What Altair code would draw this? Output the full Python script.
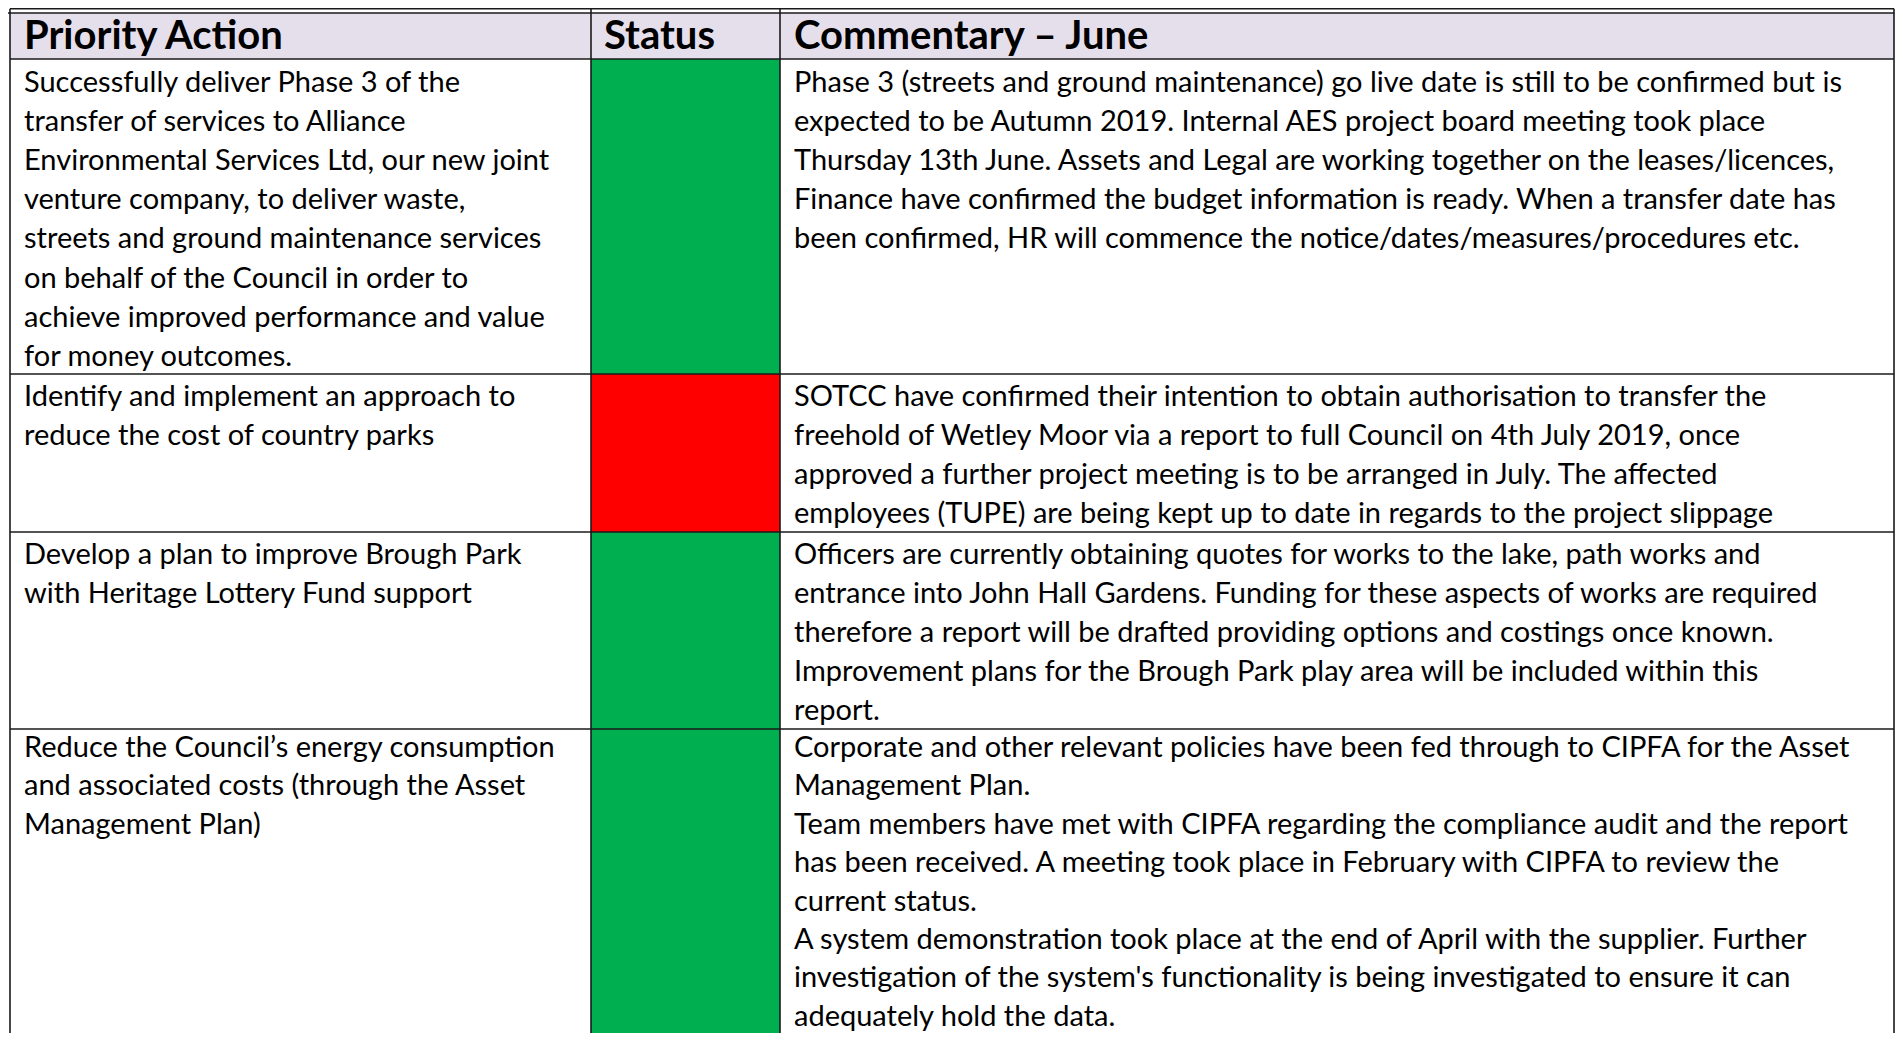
import altair as alt
import pandas as pd

# ---------------- content ----------------
header_labels = ["Priority Action", "Status", "Commentary \u2013 June"]

priority_lines = [
    ["Successfully deliver Phase 3 of the",
     "transfer of services to Alliance",
     "Environmental Services Ltd, our new joint",
     "venture company, to deliver waste,",
     "streets and ground maintenance services",
     "on behalf of the Council in order to",
     "achieve improved performance and value",
     "for money outcomes."],
    ["Identify and implement an approach to",
     "reduce the cost of country parks"],
    ["Develop a plan to improve Brough Park",
     "with Heritage Lottery Fund support"],
    ["Reduce the Council\u2019s energy consumption",
     "and associated costs (through the Asset",
     "Management Plan)"],
]

status_values = ["green", "red", "green", "green"]

commentary_lines = [
    ["Phase 3 (streets and ground maintenance) go live date is still to be confirmed but is",
     "expected to be Autumn 2019. Internal AES project board meeting took place",
     "Thursday 13th June. Assets and Legal are working together on the leases/licences,",
     "Finance have confirmed the budget information is ready. When a  transfer date has",
     "been confirmed, HR will commence the notice/dates/measures/procedures etc."],
    ["SOTCC have confirmed their intention to obtain authorisation to transfer the",
     "freehold of Wetley Moor via a report to full Council on 4th July 2019, once",
     "approved a further project meeting is to be arranged in July. The affected",
     "employees (TUPE) are being kept up to date in regards to the project slippage"],
    ["Officers are currently obtaining quotes for works to the lake, path works and",
     "entrance into John Hall Gardens. Funding for these aspects of works are required",
     "therefore a report will be drafted providing options and costings once known.",
     "Improvement plans for the Brough Park play area will be included within this",
     "report."],
    ["Corporate and other relevant policies have been fed through to CIPFA for the Asset",
     "Management Plan.",
     "Team members have met with CIPFA regarding the compliance audit and the report",
     "has been received. A meeting took place in February with CIPFA to review the",
     "current status.",
     "A system demonstration took place at the end of April with the supplier. Further",
     "investigation of the system's functionality is being investigated to ensure it can",
     "adequately hold the data."],
]

# ---------------- layout (page pixels) ----------------
W, H = 1887, 1025
ORG = 8
col_edges = [10, 591, 780, 1894]
row_edges = [13, 59, 374, 532, 729, ORG + H]
outer_top = 8.8
line_h = [39.1, 39.1, 39.1, 38.4]
first_off = [33, 32, 32, 28]
text_pad = [14, 13, 14]
status_colors = {"green": "#00B050", "red": "#FF0000"}

xs = alt.Scale(domain=[ORG, ORG + W], nice=False, zero=False)
ys = alt.Scale(domain=[ORG, ORG + H], nice=False, zero=False, reverse=True)

# header fill
hdr = pd.DataFrame([{"x": col_edges[0], "x2": col_edges[-1], "y": row_edges[0], "y2": row_edges[1]}])
hdr_layer = alt.Chart(hdr).mark_rect(color="#E5DFEC").encode(
    x=alt.X("x:Q", scale=xs, axis=None), x2="x2:Q",
    y=alt.Y("y:Q", scale=ys, axis=None), y2="y2:Q")

# status cells
cells = pd.DataFrame([
    {"x": col_edges[1], "x2": col_edges[2], "y": row_edges[i + 1], "y2": row_edges[i + 2],
     "c": status_colors[s]} for i, s in enumerate(status_values)])
cell_layer = alt.Chart(cells).mark_rect().encode(
    x=alt.X("x:Q", scale=xs, axis=None), x2="x2:Q",
    y=alt.Y("y:Q", scale=ys, axis=None), y2="y2:Q",
    color=alt.Color("c:N", scale=None))

# grid lines
lines = []
for yv in row_edges[:-1]:
    lines.append({"x": col_edges[0], "x2": col_edges[-1], "y": yv, "y2": yv})
lines.append({"x": col_edges[0], "x2": col_edges[-1], "y": outer_top, "y2": outer_top})
lines.append({"x": ORG, "x2": col_edges[0], "y": row_edges[0], "y2": row_edges[0]})
for xv in col_edges:
    lines.append({"x": xv, "x2": xv, "y": outer_top, "y2": ORG + H})
line_df = pd.DataFrame(lines)
line_layer = alt.Chart(line_df).mark_rule(color="#1a1a1a", strokeWidth=1.6).encode(
    x=alt.X("x:Q", scale=xs, axis=None), x2="x2:Q",
    y=alt.Y("y:Q", scale=ys, axis=None), y2="y2:Q")

# header text
htext = pd.DataFrame([{"x": col_edges[i] + text_pad[i], "y": 49, "t": lab}
                      for i, lab in enumerate(header_labels)])
htext_layer = alt.Chart(htext).mark_text(
    align="left", baseline="alphabetic", font="Lato", fontWeight="bold",
    fontSize=40, color="#000000").encode(
    x=alt.X("x:Q", scale=xs, axis=None), y=alt.Y("y:Q", scale=ys, axis=None), text="t:N")

# body text
body = []
for r in range(4):
    top = row_edges[r + 1]
    for i, t in enumerate(priority_lines[r]):
        body.append({"x": col_edges[0] + text_pad[0], "y": top + first_off[r] + i * line_h[r], "t": t})
    for i, t in enumerate(commentary_lines[r]):
        body.append({"x": col_edges[2] + text_pad[2], "y": top + first_off[r] + i * line_h[r], "t": t})
body_df = pd.DataFrame(body)
body_layer = alt.Chart(body_df).mark_text(
    align="left", baseline="alphabetic", font="Lato", fontSize=29, color="#000000").encode(
    x=alt.X("x:Q", scale=xs, axis=None), y=alt.Y("y:Q", scale=ys, axis=None), text="t:N")

chart = alt.layer(hdr_layer, cell_layer, line_layer, htext_layer, body_layer).properties(
    width=W, height=H, padding=0, autosize=alt.AutoSizeParams(type="none"),
    background="white"
).configure_view(stroke=None)

chart.save("out.html", embed_options={"renderer": "svg", "actions": False})
